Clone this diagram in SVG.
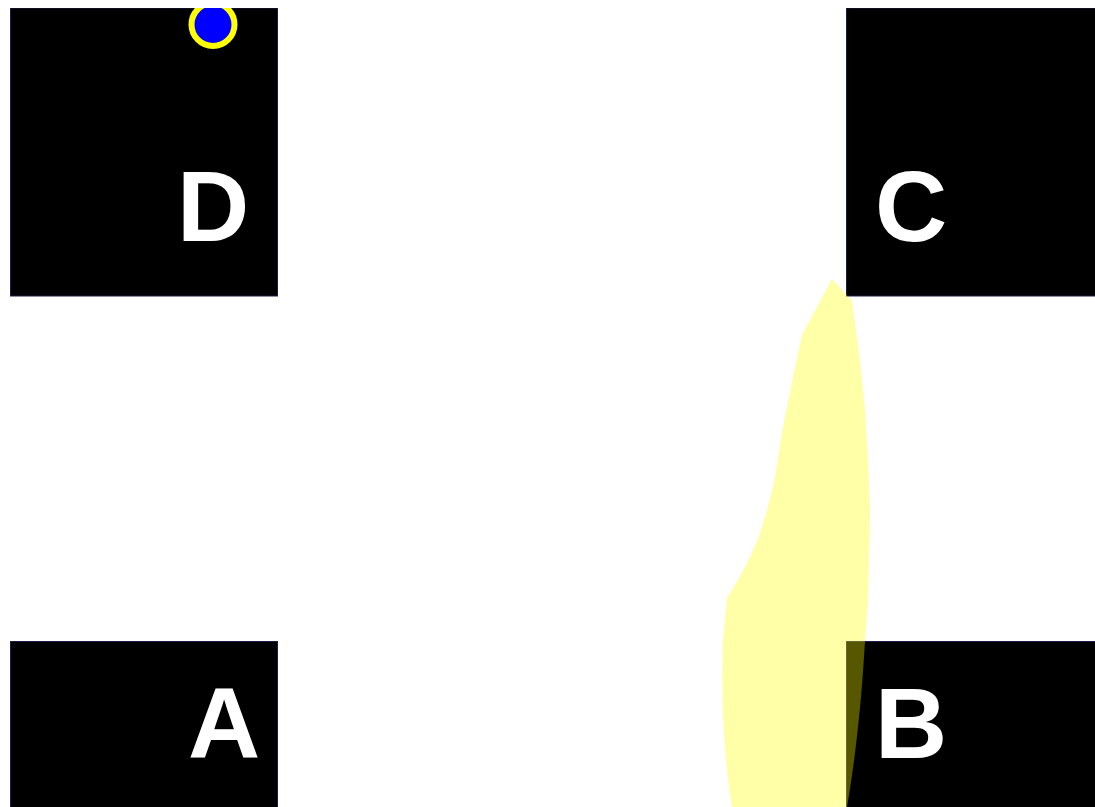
<svg xmlns="http://www.w3.org/2000/svg" width="1095" height="807" viewBox="0 0 1095 807">
<style>
.box{fill:#000;stroke:#1c1c4e;stroke-width:1}
.lbl{font-family:"Liberation Sans",Arial,sans-serif;font-weight:bold;font-size:100px;fill:#fff}
</style>
<defs>
<clipPath id="clip"><rect x="0" y="8" width="1095" height="799"/></clipPath>
</defs>
<rect width="1095" height="807" fill="#fff"/>
<g clip-path="url(#clip)">
<g id="D"><rect class="box" x="10.5" y="8" width="267" height="288"/><text class="lbl" x="177" y="241">D</text></g>
<g id="C"><rect class="box" x="846.5" y="8" width="267" height="288"/><text class="lbl" x="875" y="241">C</text></g>
<g id="A"><rect class="box" x="10.5" y="641.5" width="267" height="200"/><text class="lbl" x="188" y="758">A</text></g>
<g id="B"><rect class="box" x="846.5" y="641.5" width="267" height="200"/><text class="lbl" x="875" y="758">B</text></g>
<g id="marker"><circle cx="213" cy="24.5" r="21.5" fill="#0000ff" stroke="#ffff00" stroke-width="6"/></g>
<g id="connectors">
<path d="M832,279 L852,301 L860,360 L865,410 L868,460 L870,510 L869,560 L868,600 L865,641 C861,710 855,760 847,807 L732,807 C724,760 721,700 723,640 L727,598 C735,585 741,575 747,563 C755,547 760,535 763,523 C768,508 772,492 775,477 C778,460 780,445 783,427 L793,377 L802,335 Z" fill="#ffff00" fill-opacity="0.34"/>
</g>
</g>
</svg>
